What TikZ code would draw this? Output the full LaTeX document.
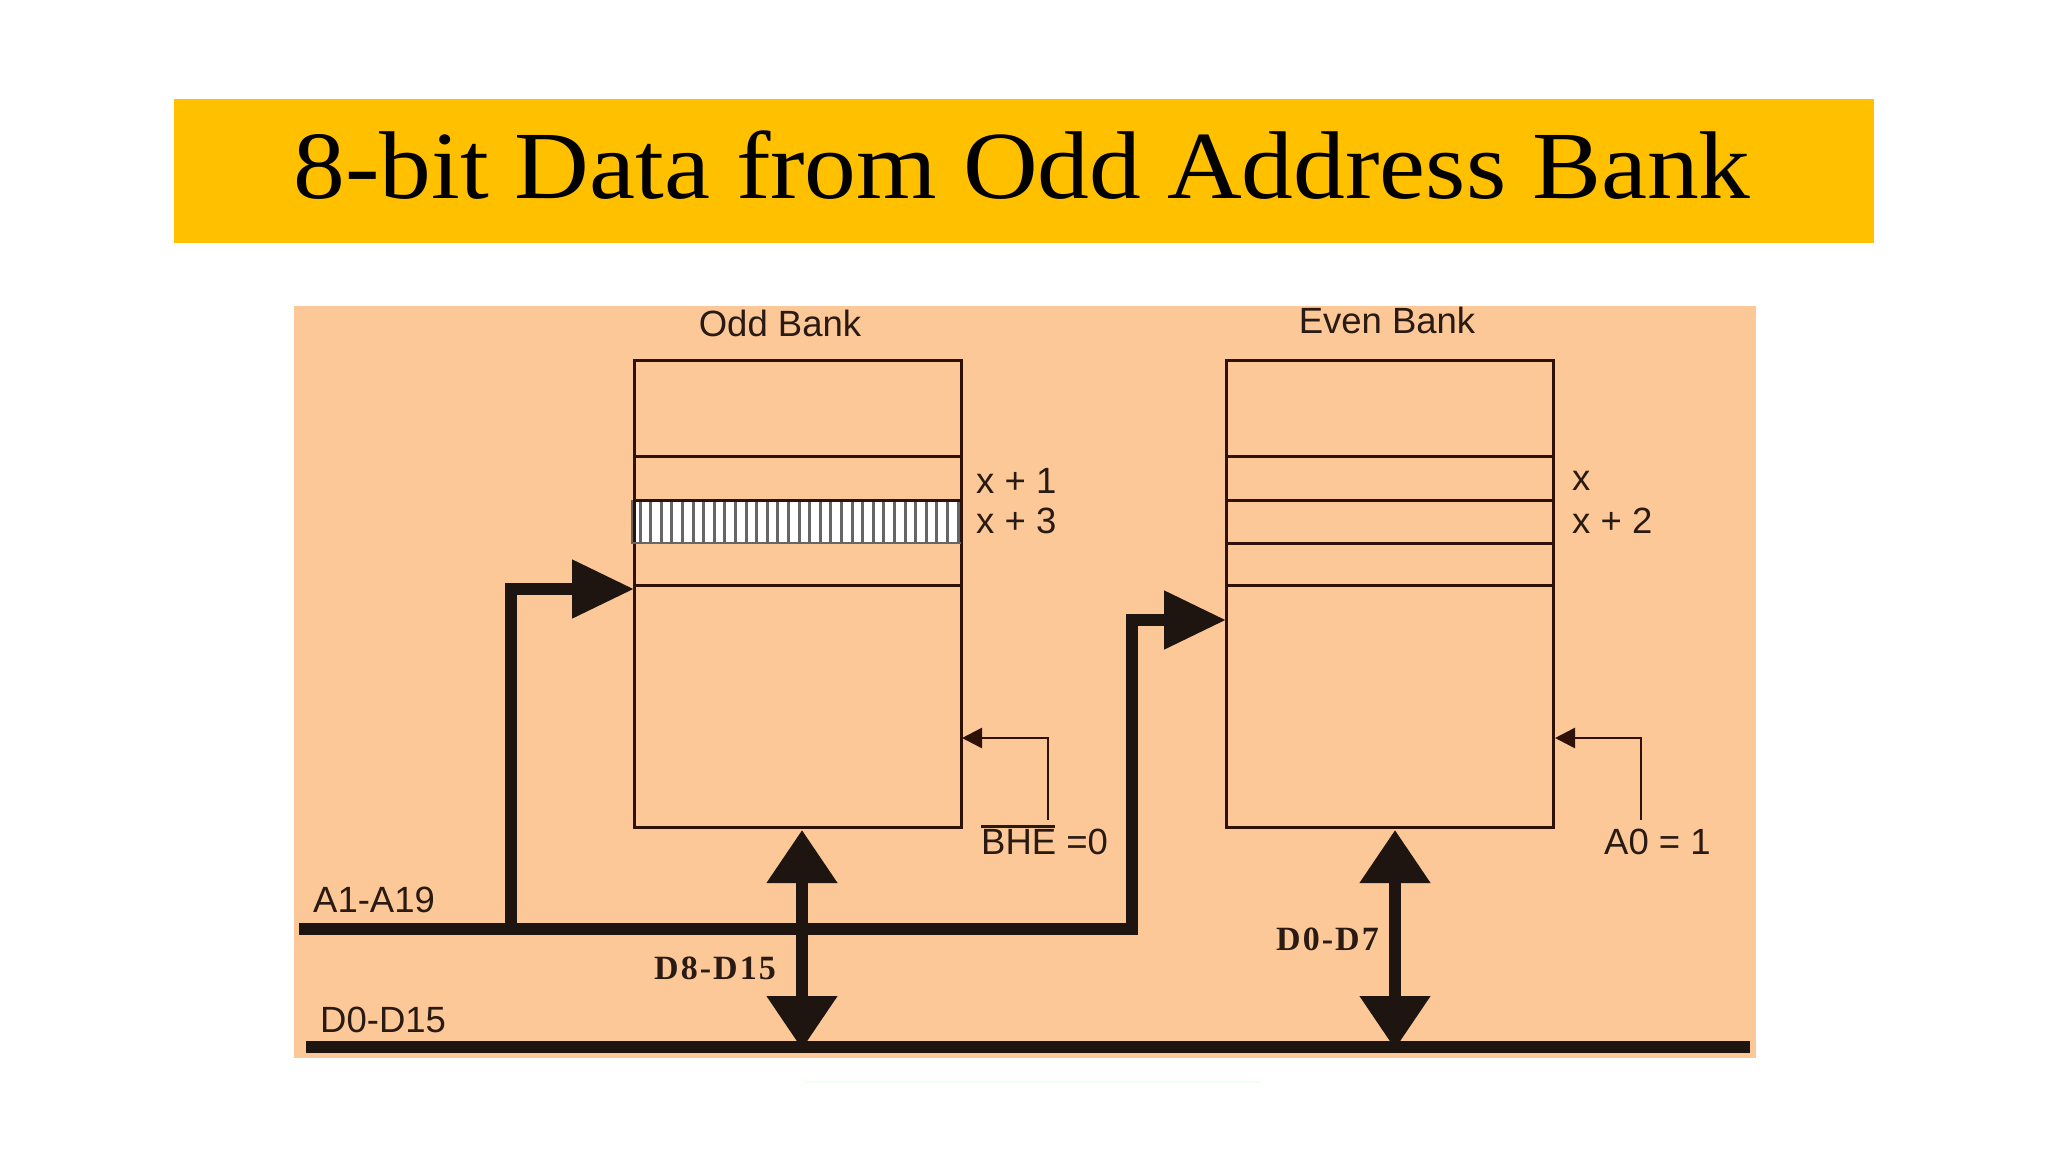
\documentclass[tikz,border=0pt]{standalone}
\usepackage{fontspec}
\setmainfont{Liberation Sans}
\newfontfamily\serifface{Liberation Serif}
\usetikzlibrary{arrows.meta}
\definecolor{banner}{HTML}{FFC000}
\definecolor{peach}{HTML}{FCC898}
\definecolor{inkline}{HTML}{2E1208}
\definecolor{inkbus}{HTML}{1E1510}
\definecolor{inktext}{HTML}{2A1A14}
\tikzset{
  x=1pt,y=-1pt,
  membox/.style={draw=inkline,line width=3pt,fill=none,rectangle,minimum width=327pt,minimum height=467pt,anchor=north west,inner sep=0pt,outer sep=0pt},
  rowline/.style={draw=inkline,line width=3pt},
  bus/.style={draw=inkbus,line width=11.5pt},
  busarrow/.style={draw=inkbus,line width=11.5pt,line join=miter,-{Triangle[length=62pt,width=56pt]}},
  dblarrow/.style={draw=inkbus,line width=11.5pt,{Triangle[length=53pt,width=68pt]}-{Triangle[length=53pt,width=68pt]}},
  ctlarrow/.style={draw=inkline,line width=2.6pt,line join=miter,-{Triangle[length=20pt,width=20pt]}},
  lab/.style={inner sep=0pt,anchor=west,text=inktext,font=\fontsize{36.5}{38}\selectfont},
  blab/.style={inner sep=0pt,anchor=west,text=inktext,font=\serifface\addfontfeature{LetterSpace=6}\bfseries\fontsize{34}{36}\selectfont},
}
\begin{document}
\begin{tikzpicture}
\useasboundingbox (0,0) rectangle (2048,1152);
\fill[white] (0,0) rectangle (2048,1152);
\node[fill=banner,minimum width=1700pt,minimum height=144pt,inner sep=0pt,anchor=north west] (banner) at (174,99) {};
\node[inner sep=0pt,text=black,yscale=0.93,font=\serifface\fontsize{103.5}{106}\selectfont] (title) at (1022,165) {8-bit Data from Odd Address Bank};
\fill[peach] (294,306) rectangle (1756,1058);
\draw[draw=green!6!white,line width=2pt] (806,1082) -- (1260,1082);
% hatched row
\fill[white] (634,500) rectangle (961,543);
\foreach \hx in {640,650.6,...,960}{
  \draw[draw=black!60,line width=3pt] (\hx,500) -- (\hx,543);
}
% memory boxes
\node[membox] (odd) at (634,360) {};
\node[membox] (even) at (1226,360) {};
\foreach \ry in {456,500,585}{\draw[rowline] (634,\ry) -- (961,\ry);}
\draw[draw=black!60,line width=2pt] (632,500) -- (632,543) -- (961,543);
\foreach \ry in {456,500,543,585}{\draw[rowline] (1226,\ry) -- (1553,\ry);}
% buses
\coordinate (aL) at (299,929);
\coordinate (aJ) at (511,929);
\coordinate (aT) at (511,589);
\coordinate (aE) at (634,589);
\coordinate (bJ) at (1132,929);
\coordinate (bT) at (1132,620);
\coordinate (bE) at (1226,620);
\coordinate (dL) at (306,1047);
\coordinate (dR) at (1750,1047);
\draw[bus] (aL) -- (bJ);
\draw[bus] (dL) -- (dR);
\draw[busarrow] (aJ) -- (aT) -- (aE);
\draw[busarrow] (bJ) -- ++(0,5.75) -- (bT) -- (bE);
\coordinate (oT) at (802,830);
\coordinate (oB) at (802,1049);
\coordinate (eT) at (1395,830);
\coordinate (eB) at (1395,1049);
\draw[dblarrow] (oT) -- (oB);
\draw[dblarrow] (eT) -- (eB);
% control arrows
\coordinate (c1a) at (1048,820);
\coordinate (c1b) at (1048,738);
\coordinate (c1c) at (962,738);
\coordinate (c2a) at (1641,820);
\coordinate (c2b) at (1641,738);
\coordinate (c2c) at (1555,738);
\draw[ctlarrow] (c1a) -- (c1b) -- (c1c);
\draw[ctlarrow] (c2a) -- (c2b) -- (c2c);
% labels
\node[lab,anchor=center] (oddlab) at (780,323) {Odd Bank};
\node[lab,anchor=center] (evenlab) at (1387,320) {Even Bank};
\node[lab] (x1) at (976,481) {x + 1};
\node[lab] (x3) at (976,521) {x + 3};
\node[lab] (x0) at (1572,481) {x};
\node[lab] (x2) at (1572,521) {x + 2};
\node[lab] (bhe) at (981,840) {\rlap{\raisebox{27pt}{\rule{74pt}{2.4pt}}}BHE =0};
\node[lab] (a0) at (1604,842) {A0 = 1};
\node[lab] (a119) at (313,900) {A1-A19};
\node[lab] (d015) at (320,1020) {D0-D15};
\node[blab] (d815) at (654,968) {D8-D15};
\node[blab] (d07) at (1276,939) {D0-D7};
\end{tikzpicture}
\end{document}
